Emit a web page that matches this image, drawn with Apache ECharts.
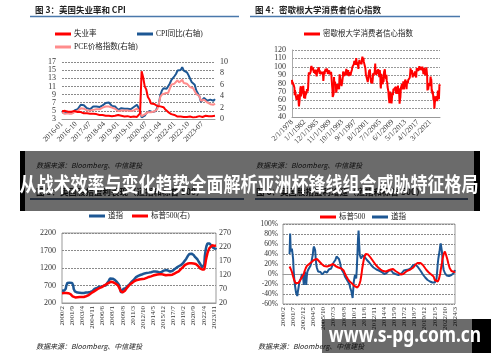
<!DOCTYPE html>
<html><head><meta charset="utf-8">
<script src="https://cdn.jsdelivr.net/npm/echarts@6/dist/echarts.min.js"></script>
<style>html,body{margin:0;padding:0;background:#fff}#c{width:500px;height:362px}</style>
</head><body><div id="c"></div>
<script>
// ---------- Chart 1: US unemployment & CPI (monthly 2016-01 .. 2024-03)
const unempRate = [
4.9,4.9,5.0,5.1,4.8,4.9,4.8,4.9,5.0,4.9,4.7,4.7,
4.7,4.6,4.4,4.4,4.4,4.3,4.3,4.4,4.3,4.2,4.2,4.1,
4.0,4.1,4.0,4.0,3.8,4.0,3.8,3.8,3.7,3.8,3.8,3.9,
4.0,3.8,3.8,3.7,3.6,3.6,3.7,3.6,3.5,3.6,3.6,3.6,
3.5,3.5,4.4,14.7,13.2,11.0,10.2,8.4,7.8,6.8,6.7,6.7,
6.4,6.2,6.1,6.1,5.8,5.9,5.4,5.1,4.7,4.5,4.2,3.9,
4.0,3.8,3.6,3.7,3.6,3.6,3.5,3.6,3.5,3.6,3.6,3.5,
3.4,3.6,3.5,3.4,3.7,3.6,3.5,3.8,3.8,3.8,3.7,3.7,
3.7,3.9,3.8];
const cpiYoY = [
1.4,1.0,0.9,1.1,1.0,1.0,0.8,1.1,1.5,1.6,1.7,2.1,
2.5,2.7,2.4,2.2,1.9,1.6,1.7,1.9,2.2,2.0,2.2,2.1,
2.1,2.2,2.4,2.5,2.8,2.9,2.9,2.7,2.3,2.5,2.2,1.9,
1.6,1.5,1.9,2.0,1.8,1.6,1.8,1.7,1.7,1.8,2.1,2.3,
2.5,2.3,1.5,0.3,0.1,0.6,1.0,1.3,1.4,1.2,1.2,1.4,
1.4,1.7,2.6,4.2,5.0,5.4,5.4,5.3,5.4,6.2,6.8,7.0,
7.5,7.9,8.5,8.3,8.6,9.1,8.5,8.3,8.2,7.7,7.1,6.5,
6.4,6.0,5.0,4.9,4.0,3.0,3.2,3.7,3.7,3.2,3.1,3.4,
3.1,3.2,3.5];
const pceYoY = [
1.2,1.0,0.9,1.1,1.0,0.9,0.9,1.0,1.2,1.4,1.4,1.6,
1.9,2.1,1.8,1.7,1.5,1.5,1.5,1.5,1.6,1.6,1.7,1.7,
1.7,1.8,2.0,2.0,2.2,2.2,2.2,2.2,2.0,2.0,1.8,1.8,
1.4,1.3,1.5,1.6,1.5,1.4,1.5,1.4,1.4,1.4,1.5,1.6,
1.8,1.8,1.3,0.5,0.5,0.8,1.0,1.2,1.3,1.2,1.1,1.3,
1.5,1.7,2.6,3.9,4.3,4.4,4.5,4.5,4.6,5.3,6.0,6.1,
6.2,6.5,6.8,6.4,6.5,6.9,6.3,6.2,6.2,6.1,5.6,5.3,
5.4,5.1,4.4,4.4,4.0,3.2,3.3,3.4,3.4,2.9,2.7,2.6,
2.5,2.5,2.7];

// ---------- Chart 2: Michigan consumer sentiment (monthly 1978-02 .. 2024-03)
const michigan = [
84.3,78.8,81.6,82.9,80.0,82.4,78.4,80.4,79.3,75.0,66.1,
72.1,73.9,68.4,66.0,68.1,65.8,60.4,64.5,66.7,62.1,63.3,61.0,
67.0,66.9,56.5,52.7,51.7,58.7,62.3,67.3,73.7,75.0,76.7,64.5,
71.4,66.9,66.5,72.4,76.3,73.1,74.1,77.2,73.1,70.3,62.5,64.3,
71.0,66.5,62.0,65.5,67.5,65.7,65.4,65.4,69.3,73.4,72.1,71.9,
70.4,74.6,80.8,89.1,93.3,92.2,92.8,90.9,89.9,89.3,91.1,94.2,
100.1,97.4,101.0,96.1,98.1,95.5,96.6,99.1,100.9,96.3,95.7,92.9,
96.0,93.7,93.7,94.6,91.8,96.5,94.0,92.4,92.1,88.6,90.9,93.9,
95.6,95.9,95.1,96.2,94.8,99.3,97.7,94.9,91.9,95.6,91.4,89.1,
90.4,90.2,90.8,92.8,91.1,91.5,93.7,94.4,93.6,89.3,83.1,86.8,
90.8,91.6,94.6,91.2,94.8,94.7,93.4,97.4,97.3,94.1,93.0,91.9,
97.9,95.4,94.3,91.5,90.7,90.6,92.0,89.6,95.8,93.9,90.9,90.5,
93.0,89.5,91.3,93.9,90.6,88.3,88.2,76.4,72.8,63.9,66.0,65.5,
66.8,70.4,87.7,81.8,78.3,82.1,82.9,82.0,83.0,78.3,69.1,68.2,
67.5,68.8,76.0,77.2,79.2,80.4,76.6,76.1,75.6,73.3,85.3,91.0,
89.3,86.6,85.9,85.6,80.3,81.5,77.0,77.3,77.9,82.7,81.2,88.2,
94.3,93.2,91.5,92.6,92.8,91.2,89.0,91.7,91.5,92.7,91.6,95.1,
97.6,95.1,90.3,92.5,89.8,92.7,94.4,96.2,88.9,90.2,88.2,91.0,
89.3,88.5,93.7,92.7,89.4,92.4,94.7,95.3,94.7,96.5,99.2,96.9,
97.4,99.7,100.0,101.4,103.2,104.5,107.1,104.4,106.0,105.6,107.2,102.1,
106.6,110.4,106.5,108.7,106.5,105.6,105.2,104.4,100.9,97.4,102.7,100.5,
103.9,108.1,105.7,104.6,106.8,107.3,106.0,104.5,107.2,103.2,107.2,105.4,
112.0,111.3,107.1,109.2,110.7,106.4,108.3,107.3,106.8,105.8,107.6,98.4,
94.7,90.6,91.5,88.4,92.0,92.6,92.4,91.5,81.8,82.7,83.9,88.8,
93.0,90.7,95.7,93.0,96.9,92.4,88.1,87.6,86.1,80.6,84.2,86.7,
82.4,79.9,77.6,86.0,92.1,89.7,90.9,89.3,87.7,89.6,93.7,92.6,
103.8,94.4,95.8,94.2,90.2,95.6,96.7,95.9,94.2,91.7,92.8,97.1,
95.5,94.1,92.6,87.7,86.9,96.0,96.5,89.1,76.9,74.2,81.6,91.5,
91.2,86.7,88.9,87.4,79.1,84.9,84.7,82.0,85.4,93.6,92.1,91.7,
96.9,91.3,88.4,87.1,88.3,85.3,90.4,83.4,83.4,80.9,76.1,75.5,
78.4,70.8,69.5,62.6,59.8,56.4,61.2,63.0,70.3,57.6,55.3,60.1,
61.2,56.3,57.3,65.1,68.7,70.8,66.0,65.7,73.5,70.6,73.4,72.5,
74.4,73.6,73.6,72.2,73.6,76.0,67.8,68.9,68.2,67.7,71.6,74.5,
74.2,77.5,67.5,69.8,74.3,71.5,63.7,55.8,59.5,60.8,63.7,69.9,
75.0,75.3,76.2,76.4,79.3,73.2,72.3,74.3,78.3,82.6,82.7,72.9,
73.8,77.6,78.6,76.4,84.5,84.1,85.1,82.1,77.5,73.2,75.1,82.5,
81.2,81.6,80.0,84.1,81.9,82.5,81.8,82.5,84.6,86.9,88.8,93.6,
98.1,95.4,93.0,95.9,90.7,96.1,93.1,91.9,87.2,90.0,91.3,92.6,
92.0,91.7,91.0,89.0,94.7,93.5,90.0,89.8,91.2,87.2,93.8,98.2,
98.5,96.3,96.9,97.0,97.1,95.1,93.4,96.8,95.1,100.7,98.5,95.9,
95.7,99.7,101.4,98.8,98.0,98.2,97.9,96.2,100.1,98.6,97.5,98.3,
91.2,93.8,98.4,97.2,100.0,98.2,98.4,89.8,93.2,95.5,96.8,99.3,
99.8,101.0,89.1,71.8,72.3,78.1,72.5,74.1,80.4,81.8,76.9,80.7,
79.0,76.8,84.9,88.3,82.9,85.5,81.2,70.3,72.8,71.7,67.4,70.6,
67.2,62.8,59.4,65.2,58.4,50.0,51.5,58.2,58.6,59.9,56.8,59.7,
64.9,67.0,62.0,63.5,59.0,64.4,71.6,69.5,67.9,63.8,61.3,69.7,
79.0,76.9,79.4];

// ---------- Chart 3: Dow (left) & S&P500 (right), monthly 2000/2 .. 2024/3
const dowLevel = [
560,572,580,566,552,540,548,610,690,745,
770,765,790,805,780,795,800,785,790,775,
770,700,600,560,535,520,515,505,510,498,
500,495,488,492,485,480,490,486,478,485,
490,488,495,492,498,500,496,503,505,500,
508,512,510,515,522,530,528,540,552,565,
580,600,620,615,628,640,635,648,655,660,
665,670,668,675,672,680,678,685,690,695,
690,680,700,720,745,770,790,800,840,880,
900,915,925,920,910,895,885,880,870,860,
845,830,815,800,790,775,760,720,660,620,
560,490,450,470,520,600,590,605,612,620,
625,640,660,680,700,715,725,740,752,770,
790,810,825,840,850,870,890,905,925,940,
950,960,968,975,980,988,995,1000,1005,1010,
1015,1022,1030,1035,1040,1045,1050,1048,1055,1060,
1058,1062,1065,1068,1070,1066,1072,1078,1082,1090,
1095,1098,1100,1104,1098,1102,1105,1100,1098,1095,
1090,1085,1078,1070,1060,1068,1080,1090,1100,1110,
1120,1125,1130,1135,1138,1140,1142,1140,1135,1128,
1120,1110,1105,1100,1098,1102,1108,1115,1125,1140,
1150,1165,1175,1190,1200,1210,1220,1230,1240,1250,
1255,1260,1270,1280,1300,1310,1320,1335,1350,1370,
1400,1420,1440,1460,1480,1510,1540,1560,1580,1600,
1610,1620,1617,1610,1600,1590,1580,1570,1550,1530,
1510,1490,1480,1470,1450,1430,1400,1370,1345,1333,
1300,1280,1250,1220,1205,1200,1210,1300,1540,1650,
1750,1820,1870,1900,1920,1928,1915,1900,1880,1860,
1840,1820,1800,1790,1775,1760,1740,1720,1745,1780];
const spxLevel = [
55,55.5,56,56,55.5,55,55.5,56,56,56.5,
56,56,55,54,53.5,53,52,50,48,46,
44,42,41,40.5,40,40,39.5,40,40,40.5,
40,40,40.5,41,41,41.5,41,41.5,42,42,
41,41.5,42,43,43.5,44,45,45,46,47,
48,50,52,53,54,55,57,58,59,61,
62,63,64,65,66,68,69,70,71,72,
73,74,74.5,75,76,77,78,79,80,82,
84,85,86,87,88,89,90,91,92,93,
94,95,96,96,95.5,95,94,93,92,91,
90,89,88,86,85,83,80,76,72,67,
63,60,58,57,58,59,60,62,64,67,
69,72,74,77,79,81,83,85,87,88,
90,92,93,95,96,97,98,99,100,101,
101,102,102,103,103,104,104,105,105,105,
106,106,106,107,107,107,108,108,109,110,
110,111,112,113,114,114,115,115,116,117,
117,118,118,119,119,120,120,121,121,122,
122,122,123,123,124,124,123,123,122,122,
121,121,120,120,120,119,119,119,120,120,
120,119,119,120,120,120,121,121,122,123,
124,125,126,127,128,129,130,131,132,133,
135,137,139,141,143,144,146,148,150,152,
154,156,157,158,159,160,161,162,162,162,
162,163,163,162,162,162,161,161,160,160,
160,159,158,157,155,153,151,149,147,144,
143,142,141,140,139,138,138,140,145,160,
173,182,190,198,204,209,213,217,220,222,
224,225,226,226,226,225,224,222,223,225];

// ---------- Chart 4: YoY growth (%), monthly 2000/2 .. 2024/3
const spxYoY = [
null,null,null,null,null,null,null,null,null,null,
null,15,12,10,8,4,0,-5,-9,-13,
-15,-18,-20,-20,-19,-19,-18,-16,-15,-12,
-10,-8,-6,-4,-3,0,5,8,11,15,
16,17,18,19,20,20,21,22,24,25,
25,26,28,29,30,31,31,30,28,27,
26,25,25,23,21,20,19,18,17,16,
15,15,15,15,15,16,16,17,17,17,
18,19,20,20,20,19,18,17,16,15,
15,14,14,13,13,13,12,12,11,11,
10,10,7,4,1,-2,-4,-5,-8,-10,
-12,-14,-15,-16,-17,-18,-19,-20,-20,-22,
-24,-26,-27,-28,-28,-27,-26,-25,-22,-18,
-14,-10,0,10,17,24,30,35,38,40,
42,41,40,39,37,36,35,33,31,30,
28,27,25,23,21,19,18,17,15,14,
13,12,11,10,9,8,7,7,6,6,
6,5,5,5,5,6,6,7,7,8,
8,9,9,10,10,10,9,8,7,6,
5,5,4,3,2,1,0,0,-1,-1,
0,0,0,1,2,3,4,4,5,6,
7,7,8,8,9,10,11,12,12,13,
15,17,18,19,20,21,22,23,23,23,
23,22,21,20,19,18,17,15,13,11,
9,8,6,5,4,3,2,2,0,-1,
-2,-3,-4,-5,-8,-12,-13,-14,-15,-15,
-15,-14,-10,-5,0,8,15,22,30,35,
40,44,45,42,38,35,30,25,20,16,
12,10,8,6,5,4,3,3,4,5];
const dowYoY = [
null,null,null,null,null,null,null,null,null,null,
null,40,81,45,41,51,48,30,5,-10,
-22,-30,-38,-42,-44,-35,-28,-20,-15,-12,
-9,-5,0,1,-10,-22,-8,5,-5,-22,
-5,5,8,10,11,14,16,18,25,32,
38,50,55,52,48,30,18,12,8,5,
7,8,6,4,1,0,-1,-2,1,3,
5,3,1,1,3,5,7,9,10,11,
12,11,14,17,20,23,25,25,28,31,
35,38,36,32,30,28,22,15,11,8,
6,5,2,-2,-5,-7,-9,-11,-13,-14,
-17,-20,-22,-28,-32,-35,-42,-48,-50,-15,
-8,-2,-5,-9,10,38,70,87,60,38,
35,31,33,35,37,36,35,35,33,31,
30,28,27,28,25,23,21,20,18,17,
15,14,13,12,11,10,10,9,8,8,
8,7,7,6,5,5,4,5,6,2,
0,-2,0,3,2,4,5,6,7,8,
8,8,7,5,3,2,1,0,1,0,
-1,-2,-3,-3,-2,-1,0,1,1,1,
2,3,5,7,8,8,9,8,8,8,
8,9,10,11,11,12,13,15,17,19,
20,20,19,18,17,16,15,15,13,10,
8,6,5,3,1,-1,-3,-4,-5,-7,
-9,-10,-11,-12,-12,-13,-14,-15,-16,-17,
-17,-17,-17,-17,-18,-17,-17,-16,-9,5,
20,31,38,45,55,61,60,45,30,15,
8,5,2,0,-2,-3,-4,-5,-5,-4,
-3,-4,-3,-2,-3,-1,1,2,5,8];

// ---------- text
const bigTitle = '从战术效率与变化趋势全面解析亚洲杯锋线组合威胁特征格局';
const watermark = 'www.s-pg.com.cn';
const sourceText = '数据来源：Bloomberg、中信建投';

// month category labels
function monthCats(y, m, n, fmt) {
  const out = [];
  for (let i = 0; i < n; i++) { out.push(fmt(y, m)); m++; if (m > 12) { m = 1; y++; } }
  return out;
}
const cat1 = monthCats(2016, 1, unempRate.length, (y, m) => y + '-' + (m < 10 ? '0' + m : m));
const cat2 = monthCats(1978, 2, michigan.length, (y, m) => m + '/1/' + y);
const cat3 = monthCats(2000, 2, dowLevel.length, (y, m) => y + '/' + m);
const cat4 = monthCats(2000, 2, dowYoY.length, (y, m) => y + '/' + m);

const SERIF = '"Liberation Serif","Noto Sans CJK SC",serif';
const RED = '#ff0000', BLUE = '#1d5794', PINK = '#ff8c8c';
const AX = '#333';
const plain = v => String(v);

function leg(name, color, left, cy) {
  return { left: left, top: cy - 5, padding: 0, icon: 'rect', itemWidth: 16, itemHeight: 3,
    selectedMode: false,
    data: [{ name: name, itemStyle: { color: color } }],
    textStyle: { fontSize: 7.5, lineHeight: 10, fontFamily: SERIF, color: '#222', padding: [0, 0, 0, -2] } };
}
function xCat(gi, data, interval, rotate, fs, margin) {
  return { gridIndex: gi, type: 'category', data: data, boundaryGap: false,
    axisLine: { show: true, lineStyle: { color: '#999', width: 1 } }, axisTick: { show: false },
    axisLabel: { interval: interval, rotate: rotate, fontSize: fs, fontFamily: SERIF, color: AX, margin: margin },
    splitLine: { show: false } };
}
function yVal(gi, min, max, interval, opts) {
  return Object.assign({ gridIndex: gi, type: 'value', min: min, max: max, interval: interval,
    axisLine: { show: false }, axisTick: { show: false },
    axisLabel: { fontSize: 8, fontFamily: SERIF, color: AX, margin: 6, formatter: plain },
    splitLine: { show: true, lineStyle: { color: '#8a8a8a', type: [2, 1], width: 1 } } }, opts || {});
}
function line(name, data, color, xi, yi, w) {
  return { name: name, type: 'line', data: data, xAxisIndex: xi, yAxisIndex: yi, showSymbol: false,
    symbol: 'none', lineStyle: { color: color, width: w }, itemStyle: { color: color }, connectNulls: false };
}
function txt(x, y, text, font, fill, align, z, extra) {
  return Object.assign({ type: 'text', x: x, y: y, z: z || 50,
    style: { text: text, font: font, fill: fill, align: align || 'left', verticalAlign: 'middle',
      textAlign: align || 'left', textVerticalAlign: 'middle' } }, extra || {});
}
function rect(x, y, w, h, fill, z) {
  return { type: 'rect', z: z, shape: { x: x, y: y, width: w, height: h }, style: { fill: fill } };
}
function hline(x1, x2, y, color, w, z) {
  return { type: 'line', z: z || 50, shape: { x1: x1, y1: y, x2: x2, y2: y }, style: { stroke: color, lineWidth: w } };
}

const chart = echarts.init(document.getElementById('c'), null, { renderer: 'canvas' });
const option = {
  animation: false,
  backgroundColor: '#ffffff',
  legend: [
    leg('失业率', RED, 55, 34),
    leg('CPI同比(右轴)', BLUE, 137, 34),
    leg('PCE价格指数(右轴)', PINK, 55, 47),
    leg('密歇根大学消费者信心指数', RED, 304, 34),
    leg('道指', BLUE, 89, 216),
    leg('标普500(右)', RED, 132, 216),
    leg('标普500', RED, 320, 217),
    leg('道指', BLUE, 372, 217)
  ],
  grid: [
    { left: 62, top: 62, width: 153, height: 57, outerBoundsMode: 'none' },
    { left: 292, top: 50, width: 148, height: 67, outerBoundsMode: 'none' },
    { left: 62, top: 233, width: 154, height: 70, show: true, borderColor: '#999', borderWidth: 1, outerBoundsMode: 'none' },
    { left: 283, top: 224, width: 172, height: 80, show: true, borderColor: '#999', borderWidth: 1, outerBoundsMode: 'none' }
  ],
  xAxis: [
    xCat(0, cat1, 8, 45, 7.5, 4),
    xCat(1, cat2, 46, 45, 7.5, 4),
    xCat(2, cat3, 18, 90, 7, 3),
    xCat(3, cat4, 16, 90, 7, 3)
  ],
  yAxis: [
    yVal(0, 3, 17, 2),
    yVal(0, 0, 10, 2, { position: 'right', splitLine: { show: false },
      axisLabel: { fontSize: 8, fontFamily: SERIF, color: AX, margin: 5, formatter: plain } }),
    yVal(1, 40, 120, 10, { axisLine: { show: true, lineStyle: { color: '#aaa' } },
      splitLine: { show: true, lineStyle: { color: '#999', type: [2, 1] } } }),
    yVal(2, 200, 2200, 500),
    yVal(2, 20, 270, 50, { position: 'right', splitLine: { show: false },
      axisLabel: { fontSize: 8, fontFamily: SERIF, color: AX, margin: 3, formatter: plain } }),
    yVal(3, -60, 100, 20, { axisLabel: { fontSize: 7.5, fontFamily: SERIF, color: AX, margin: 5, formatter: '{value}%' } })
  ],
  series: [
    line('CPI同比(右轴)', cpiYoY, BLUE, 0, 1, 2),
    line('PCE价格指数(右轴)', pceYoY, PINK, 0, 1, 2),
    line('失业率', unempRate, RED, 0, 0, 2),
    line('密歇根大学消费者信心指数', michigan, RED, 1, 2, 2),
    line('道指', dowLevel, BLUE, 2, 3, 2.5),
    line('标普500(右)', spxLevel, RED, 2, 4, 2.5),
    line('道指', dowYoY, BLUE, 3, 5, 2),
    line('标普500', spxYoY, RED, 3, 5, 2)
  ],
  graphic: { elements: [
    txt(35, 10, '图 3：美国失业率和 CPI', 'bold 8.5px "Noto Sans CJK SC"', '#222'),
    hline(30, 239, 16.5, '#4a78ab', 1.5),
    txt(255, 10, '图 4：密歇根大学消费者信心指数', 'bold 8.5px "Noto Sans CJK SC"', '#222'),
    hline(250, 460, 16.5, '#4a78ab', 1.5),
    txt(36, 165, sourceText, 'italic 7px "Noto Sans CJK SC"', '#222'),
    txt(256, 165, sourceText, 'italic 7px "Noto Sans CJK SC"', '#222'),
    txt(36, 192, '图 5：美国股指盈利表现（道指和标普 500）', 'bold 8.5px "Noto Sans CJK SC"', '#222'),
    hline(30, 244, 199, '#1f3d66', 1.5),
    txt(256, 192, '图 6：美国股指盈利增速（道指和标普 500）', 'bold 8.5px "Noto Sans CJK SC"', '#222'),
    hline(255, 468, 199, '#1f3d66', 1.5),
    txt(36, 346, sourceText, 'italic 7px "Noto Sans CJK SC"', '#222'),
    txt(258, 346, sourceText, 'italic 7px "Noto Sans CJK SC"', '#222'),
    // overlay band
    rect(25, 151, 449, 60, 'rgba(0,0,0,0.58)', 100),
    rect(20, 151, 5, 60, '#000', 101),
    rect(474, 151, 6, 60, '#000', 101),
    txt(249, 184, bigTitle, 'bold 20px "Noto Sans CJK SC"', '#ffffff', 'center', 102, { scaleX: 0.85 }),
    // watermark box
    rect(322, 319, 150, 34, 'rgba(0,0,0,0.58)', 100),
    rect(472, 319, 19, 34, '#000', 101),
    txt(405, 336, watermark, 'bold 21px "Noto Sans","DejaVu Sans",sans-serif', '#ffffff', 'center', 102, { scaleX: 0.83 })
  ] }
};
chart.setOption(option);
</script>
</body></html>
